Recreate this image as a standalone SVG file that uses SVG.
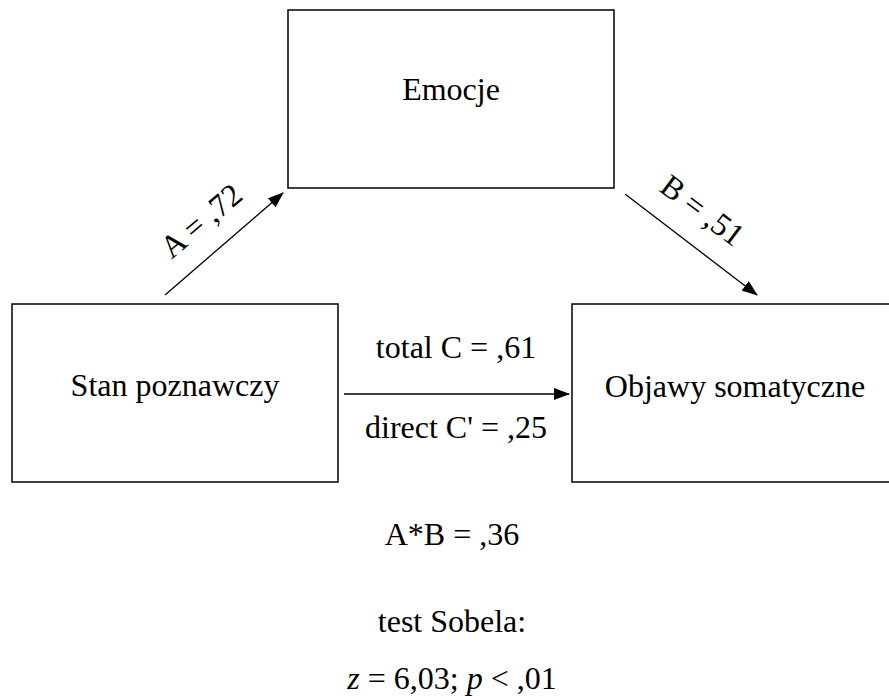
<svg xmlns="http://www.w3.org/2000/svg" width="889" height="696" viewBox="0 0 889 696">
<style>
.box{fill:#fff;stroke:#000;stroke-width:1.5}
.c{stroke:#000;stroke-width:1.3;fill:none}
</style>
<defs>
<marker id="ah" markerWidth="16" markerHeight="12" refX="15" refY="6" orient="auto" markerUnits="userSpaceOnUse">
<path d="M0,0 L16,6 L0,12 Z" fill="#000"/>
</marker>
</defs>
<rect width="889" height="696" fill="#fff"/>
<g font-family="Liberation Serif, Times New Roman, serif" font-size="32" fill="#000" text-anchor="middle">
<g id="emocje">
<rect class="box" x="288" y="10" width="326" height="178"/>
<text x="451" y="100">Emocje</text>
</g>
<g id="stan">
<rect class="box" x="12" y="304" width="326" height="178"/>
<text x="175" y="396">Stan poznawczy</text>
</g>
<g id="objawy">
<rect class="box" x="572" y="304" width="326" height="178"/>
<text x="735" y="397">Objawy somatyczne</text>
</g>
<g id="connectors">
<line class="c" x1="165" y1="295" x2="283" y2="193" marker-end="url(#ah)"/>
<line class="c" x1="625" y1="194" x2="757" y2="295" marker-end="url(#ah)"/>
<line class="c" x1="344" y1="394" x2="569" y2="394" marker-end="url(#ah)"/>
</g>
<g id="labels">
<text transform="translate(208,229) rotate(-40)">A = ,72</text>
<text transform="translate(696,219) rotate(37)">B = ,51</text>
<text x="456" y="358">total C = ,61</text>
<text x="456" y="438">direct C' = ,25</text>
<text x="452" y="545">A*B = ,36</text>
<text x="452" y="632">test Sobela:</text>
<text x="452" y="689"><tspan font-style="italic">z</tspan> = 6,03; <tspan font-style="italic">p</tspan> &lt; ,01</text>
</g>
</g>
</svg>
